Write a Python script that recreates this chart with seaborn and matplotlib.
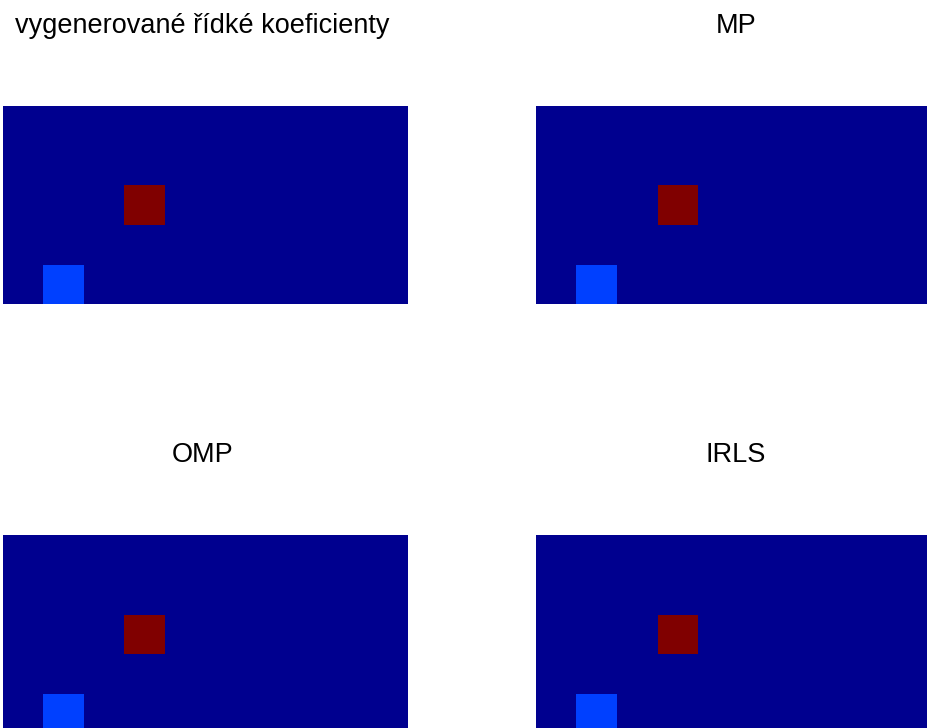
import numpy as np
import pandas as pd
import matplotlib
matplotlib.use("Agg")
import matplotlib.pyplot as plt
from matplotlib.colors import ListedColormap
import seaborn as sns

# Coefficient grid size (rows x columns)
n_rows = 5
n_cols = 10

# Positions of the non-zero coefficients
spike_rows = [2, 4]
spike_cols = [3, 1]

# Panel titles and the recovered coefficient values for each method
titles = ["vygenerované řídké koeficienty", "MP", "OMP", "IRLS"]
generated_vals = [1.0, 0.18]
mp_vals = [1.0, 0.18]
omp_vals = [1.0, 0.18]
irls_vals = [1.0, 0.18]
panel_vals = [generated_vals, mp_vals, omp_vals, irls_vals]


def coef_frame(vals):
    grid = np.zeros((n_rows, n_cols))
    for r, c, v in zip(spike_rows, spike_cols, vals):
        grid[r, c] = v
    return pd.DataFrame(grid)


def matlab_jet(n=64):
    # Classic 64-entry jet colormap (dark blue -> dark red)
    m = int(np.ceil(n / 4))
    u = np.concatenate([np.arange(1, m + 1) / m, np.ones(m - 1), np.arange(m, 0, -1) / m])
    g = int(np.ceil(m / 2)) - (1 if n % 4 == 1 else 0) + np.arange(1, len(u) + 1)
    r = g + m
    b = g - m
    J = np.zeros((n, 3))
    for col, idx in ((0, r), (1, g), (2, b)):
        ok = (idx >= 1) & (idx <= n)
        J[idx[ok] - 1, col] = u[ok]
    return ListedColormap(J)


sns.set_style("white")
plt.rcParams["font.family"] = ["Liberation Sans", "DejaVu Sans"]

cmap = matlab_jet(64)

W, H = 928, 728
fig = plt.figure(figsize=(W / 100, H / 100), dpi=100)

ax_w, ax_h = 406, 198.5
lefts = [2.5, 535.7, 2.5, 535.7]
tops = [106, 106, 535.3, 535.3]

for title, vals, left, top in zip(titles, panel_vals, lefts, tops):
    ax = fig.add_axes([left / W, (H - top - ax_h) / H, ax_w / W, ax_h / H])
    sns.heatmap(coef_frame(vals), ax=ax, cmap=cmap, vmin=0, vmax=1,
                cbar=False, xticklabels=False, yticklabels=False)
    ax.tick_params(left=False, bottom=False)
    ax.set_title(title, fontsize=19.5, color="black", pad=52.5, x=0.4926)

fig.savefig("out.png", dpi=100)
